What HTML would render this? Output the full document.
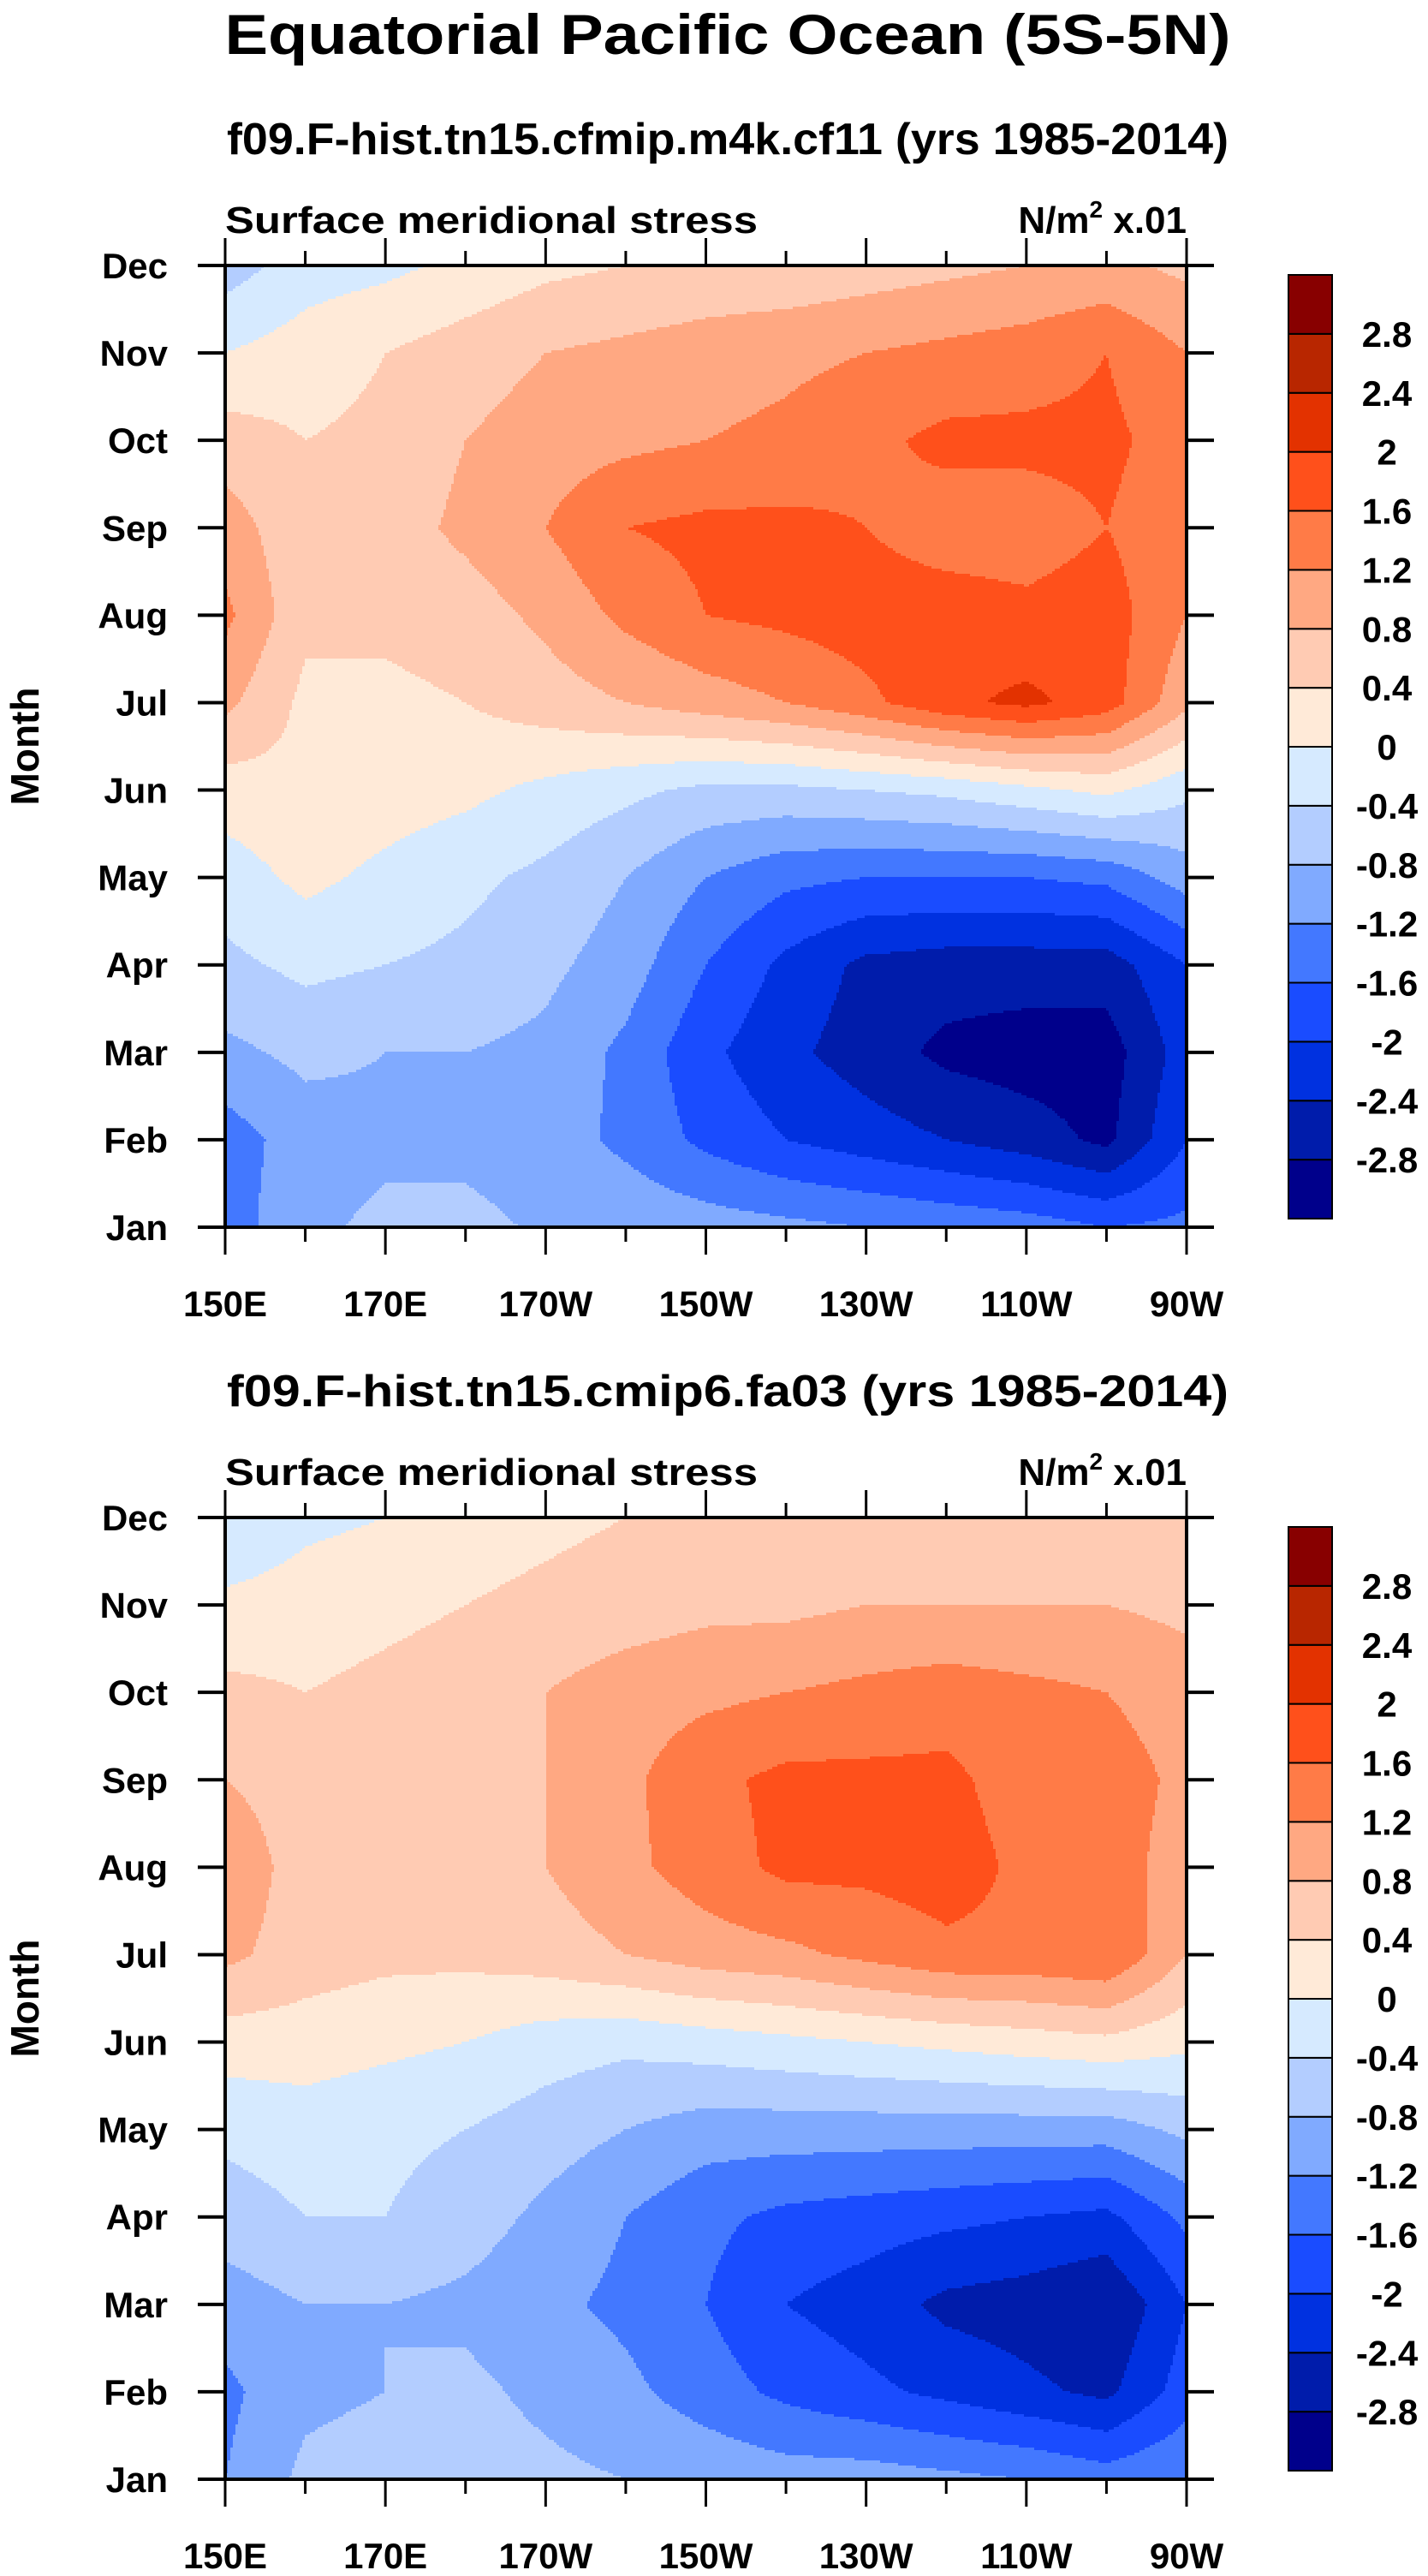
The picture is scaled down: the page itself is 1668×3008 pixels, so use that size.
<!DOCTYPE html>
<html><head><meta charset="utf-8"><style>
html,body{margin:0;padding:0;background:#fff}
svg{display:block}
text{font-family:"Liberation Sans",Arial,sans-serif;font-weight:bold;fill:#000}
</style></head><body>
<svg id="chart" xmlns="http://www.w3.org/2000/svg" width="1668" height="3008" viewBox="0 0 1668 3008">
<text x="850" y="63" font-size="66" text-anchor="middle" textLength="1175" lengthAdjust="spacingAndGlyphs">Equatorial Pacific Ocean (5S-5N)</text>
</svg>
<script>
const months = ["Jan","Feb","Mar","Apr","May","Jun","Jul","Aug","Sep","Oct","Nov","Dec"];
const lonTicks = ["150E","170E","170W","150W","130W","110W","90W"];
const levels = [-2.8,-2.4,-2,-1.6,-1.2,-0.8,-0.4,0,0.4,0.8,1.2,1.6,2,2.4,2.8];
const levelLabels = ["-2.8","-2.4","-2","-1.6","-1.2","-0.8","-0.4","0","0.4","0.8","1.2","1.6","2","2.4","2.8"];
const colors = ["#00008b","#001cab","#0031e0","#1a4cff","#4378ff","#80aaff","#b3cdff","#d6eaff","#ffead8","#ffcbb3","#ffa882","#ff7b47","#ff501b","#e33200","#b82600","#880000"];
const caseTitles = ["f09.F-hist.tn15.cfmip.m4k.cf11 (yrs 1985-2014)","f09.F-hist.tn15.cmip6.fa03 (yrs 1985-2014)"];
// rows Jan..Dec, columns 150E..90W every 10 degrees
const stress1 = [
[-1.4,-0.9,-0.7,-0.7,-0.85,-0.9,-1.0,-1.1,-1.2,-1.3,-1.4,-1.6,-1.5],
[-1.4,-1.0,-0.9,-0.9,-1.0,-1.3,-1.7,-2.0,-2.2,-2.4,-2.6,-2.9,-2.0],
[-0.9,-0.7,-0.8,-0.8,-0.9,-1.3,-1.9,-2.3,-2.6,-2.9,-3.0,-3.0,-2.2],
[-0.5,-0.3,-0.4,-0.5,-0.7,-1.0,-1.6,-2.1,-2.5,-2.6,-2.6,-2.6,-2.0],
[-0.2,0.1,-0.1,-0.3,-0.5,-0.8,-1.2,-1.5,-1.6,-1.6,-1.6,-1.5,-1.0],
[0.2,0.3,0.2,0.1,-0.1,-0.3,-0.5,-0.5,-0.4,-0.3,-0.1,0.1,-0.3],
[0.9,0.3,0.3,0.4,0.6,0.8,1.0,1.2,1.5,1.9,2.1,1.8,0.9],
[1.3,0.5,0.5,0.6,0.9,1.3,1.6,1.7,1.8,1.8,1.7,1.8,1.2],
[1.0,0.5,0.6,0.9,1.2,1.6,1.7,1.7,1.6,1.4,1.4,1.6,1.3],
[0.6,0.4,0.5,0.8,1.0,1.1,1.2,1.3,1.5,1.7,1.7,1.7,1.4],
[0.0,0.2,0.4,0.6,0.8,0.9,1.0,1.1,1.2,1.3,1.4,1.6,1.2],
[-0.6,-0.2,-0.1,0.1,0.3,0.4,0.5,0.5,0.6,0.7,0.8,0.9,0.7]];
const stress2 = [
[-1.2,-0.7,-0.6,-0.6,-0.7,-0.8,-0.9,-1.0,-1.0,-1.1,-1.2,-1.4,-1.2],
[-1.3,-0.9,-0.8,-0.7,-0.9,-1.1,-1.4,-1.7,-1.9,-2.1,-2.3,-2.5,-1.8],
[-1.0,-0.8,-0.8,-0.9,-1.1,-1.3,-1.6,-2.0,-2.2,-2.5,-2.6,-2.8,-2.0],
[-0.6,-0.4,-0.4,-0.6,-0.9,-1.2,-1.5,-1.7,-1.8,-1.9,-2.0,-2.1,-1.5],
[-0.3,-0.2,-0.3,-0.4,-0.6,-0.8,-1.0,-1.0,-1.0,-1.0,-1.0,-1.0,-0.7],
[0.2,0.2,0.1,0.0,-0.2,-0.3,-0.2,-0.1,0.0,0.1,0.2,0.3,0.1],
[0.9,0.6,0.5,0.5,0.6,0.8,1.0,1.1,1.3,1.5,1.5,1.6,0.8],
[1.1,0.6,0.5,0.6,0.8,1.1,1.4,1.7,1.7,1.8,1.5,1.4,1.0],
[0.8,0.6,0.6,0.7,0.8,1.1,1.5,1.7,1.7,1.7,1.4,1.4,1.1],
[0.5,0.4,0.5,0.6,0.8,1.0,1.1,1.2,1.3,1.4,1.3,1.2,1.0],
[0.1,0.2,0.3,0.4,0.5,0.6,0.7,0.7,0.8,0.8,0.8,0.8,0.7],
[-0.4,-0.1,0.0,0.2,0.3,0.4,0.5,0.6,0.6,0.6,0.6,0.6,0.5]];

const NS="http://www.w3.org/2000/svg";
const svg=document.getElementById('chart');
function mk(tag,attrs,parent){const e=document.createElementNS(NS,tag);for(const k in attrs)e.setAttribute(k,attrs[k]);(parent||svg).appendChild(e);return e;}
function colorFor(v){let i=0;while(i<levels.length&&v>=levels[i])i++;return colors[i];}

function panel(data,top,title,idx){
  const L=263,R=1386,T=top,B=top+1123;
  const g=mk('g',{});
  
  
  const xScale=c=>L+(R-L)*c/12;
  const yScale=m=>B-(B-T)*m/11;
  const t=mk('text',{x:850,y:T-130,'font-size':52,'text-anchor':'middle',textLength:1170,lengthAdjust:'spacingAndGlyphs'},g);
  t.textContent=title;
  
  
  const s1=mk('text',{x:L,y:T-38,'font-size':44,textLength:622,lengthAdjust:'spacingAndGlyphs'},g);
  s1.textContent='Surface meridional stress';
  
  
  const s2=mk('text',{x:R,y:T-38,'font-size':44,'text-anchor':'end'},g);
  s2.innerHTML='N/m<tspan dy="-18" font-size="28">2</tspan><tspan dy="18"> x.01</tspan>';
  
  
  const cells=mk('g',{},g);
  
  
  const step=3;
  function flush(x0,x1,py,col){
    const r=mk('rect',{x:x0,y:py,width:x1-x0+0.6,height:Math.min(step,B-py)+0.6,fill:col},cells);
    
    
  }
  for(let py=T;py<B;py+=step){
    const m=(B-(py+step/2))/(B-T)*11;
    const m0=Math.max(0,Math.min(10,Math.floor(m))),fm=m-m0;
    let runStart=L,runCol=null;
    for(let px=L;px<R;px+=step){
      const c=((px+step/2)-L)/(R-L)*12;
      const c0=Math.max(0,Math.min(11,Math.floor(c))),fc=c-c0;
      const v=(data[m0][c0]*(1-fc)+data[m0][c0+1]*fc)*(1-fm)+(data[m0+1][c0]*(1-fc)+data[m0+1][c0+1]*fc)*fm;
      const col=colorFor(v);
      if(col!==runCol){
        if(runCol) flush(runStart,px,py,runCol);
        runStart=px;runCol=col;
      }
    }
    if(runCol) flush(runStart,R,py,runCol);
  }
  const fr=mk('rect',{x:L,y:T,width:R-L,height:B-T,fill:'none',stroke:'#000','stroke-width':4},g);
  
  
  for(let m=0;m<12;m++){
    const y=yScale(m);
    mk('line',{x1:L-32,x2:L,y1:y,y2:y,stroke:'#000','stroke-width':4},g);
    mk('line',{x1:R,x2:R+32,y1:y,y2:y,stroke:'#000','stroke-width':4},g);
    const lb=mk('text',{x:196,y:y+15,'font-size':42,'text-anchor':'end'},g);
    lb.textContent=months[m];
    
    
  }
  for(let k=0;k<=12;k++){
    const x=xScale(k),len=k%2===0?32:17;
    mk('line',{x1:x,x2:x,y1:T-len,y2:T,stroke:'#000','stroke-width':3},g);
    mk('line',{x1:x,x2:x,y1:B,y2:B+len,stroke:'#000','stroke-width':3},g);
  }
  lonTicks.forEach((s,i)=>{
    const lb=mk('text',{x:xScale(i*2),y:B+104,'font-size':42,'text-anchor':'middle'},g);
    lb.textContent=s;
    
    
  });
  const yl=mk('text',{x:0,y:0,'font-size':46,'text-anchor':'middle',transform:`translate(45,${(T+B)/2}) rotate(-90)`},g);
  yl.textContent='Month';
  
  
  const cbT=T+11,cbB=T+1113,bh=(cbB-cbT)/16;
  const cb=mk('g',{},g);
  
  
  for(let i=0;i<16;i++){
    const r=mk('rect',{x:1505,y:cbB-(i+1)*bh,width:51,height:bh,fill:colors[i],stroke:'#000','stroke-width':2},cb);
    
    
  }
  levelLabels.forEach((s,i)=>{
    const lb=mk('text',{x:1620,y:cbB-(i+1)*bh+15,'font-size':42,'text-anchor':'middle'},cb);
    lb.textContent=s;
    
    
  });
}
panel(stress1,310,caseTitles[0],1);
panel(stress2,1772,caseTitles[1],2);
</script>
</body></html>
